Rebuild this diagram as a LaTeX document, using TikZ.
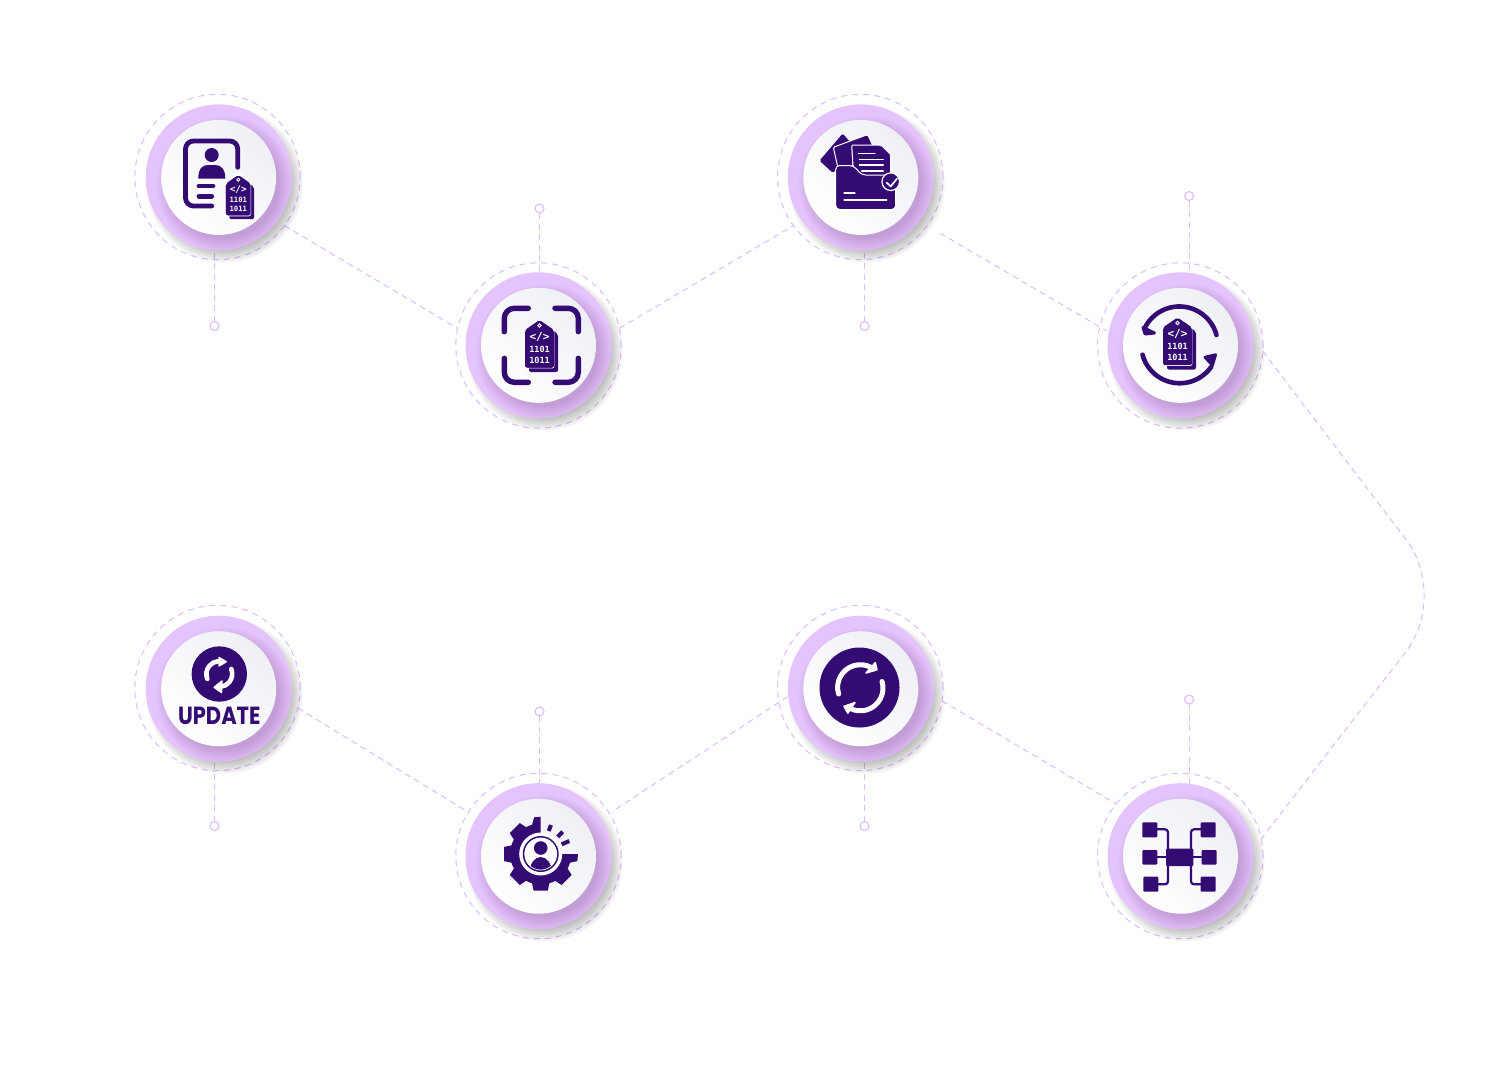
\documentclass[tikz,border=0pt]{standalone}
\usepackage{fontspec}
\newfontfamily\tagfont{DejaVu Sans Mono}
\newfontfamily\updfont{Poppins}
\definecolor{lilac}{HTML}{E5C3FD}
\definecolor{dashc}{HTML}{DFBBFC}
\definecolor{ink}{HTML}{340A73}
\definecolor{softg}{HTML}{EEF0F5}
\tikzset{
  ringnode/.style={circle,draw=dashc,line width=1pt,dash pattern=on 6pt off 5pt,minimum size=165.4pt,inner sep=0pt,outer sep=0pt},
  link/.style={draw=dashc,line width=1pt,dash pattern=on 6pt off 4.5pt},
  dot/.style={circle,draw=dashc,line width=1.1pt,fill=white,minimum size=9pt,inner sep=0pt,outer sep=0pt},
  inkline/.style={draw=ink,line width=#1,line cap=round,line join=round},
  whiteline/.style={draw=white,line width=#1,line cap=round,line join=round},
  tagtext/.style={text=white,inner sep=0pt,font=\tagfont\bfseries\fontsize{8.5}{8.5}\selectfont,transform shape},
  tagcode/.style={text=white,inner sep=0pt,font=\tagfont\bfseries\fontsize{11}{11}\selectfont,transform shape},
}
% shadows and the two discs, centred on the given point
\newcommand{\discs}[2]{%
  \foreach \rr in {66,68,...,78} {\fill[black,opacity=.04] (#1+6,#2+7) circle[radius=\rr pt];}
  \fill[lilac] (#1,#2) circle[radius=73pt];
  \begin{scope}
    \clip (#1,#2) circle[radius=73pt];
    \foreach \rr in {54,56,...,68} {\fill[black!60!violet,opacity=.022] (#1+6,#2+7) circle[radius=\rr pt];}
  \end{scope}
  \shade[left color=softg,right color=white,shading angle=-45] (#1,#2) circle[radius=57.5pt];
}
% binary price tag: name prefix, centre x, top y, scale
\newcommand{\tagico}[4]{%
  \begin{scope}[shift={(#2,#3)},scale=#4]
    \fill[ink,rounded corners=2pt] (4,4)--(18.5,14)--(18.5,52)--(-10.5,52)--(-10.5,14)--cycle;
    \filldraw[ink,rounded corners=2pt,draw=white,line width=.9pt] (0,0)--(14.5,10)--(14.5,48)--(-14.5,48)--(-14.5,10)--cycle;
    \fill[ink,rounded corners=2pt] (0,0)--(14.5,10)--(14.5,47.5)--(-14.5,47.5)--(-14.5,10)--cycle;
    \filldraw[fill=ink,draw=white,line width=.9pt] (0,5.5) circle[radius=1.8pt];
    \node[tagcode] (#1a) at (0,16.5) {</>};
    \node[tagtext] (#1b) at (0,29) {1101};
    \node[tagtext] (#1c) at (0,40) {1011};
  \end{scope}
}
\begin{document}
\begin{tikzpicture}[x=1pt,y=-1pt]
\useasboundingbox (0,0) rectangle (1503,1080);
\fill[white] (0,0) rectangle (1503,1080);

% dashed rings
\node[ringnode] (c1) at (217.5,177) {};
\node[ringnode] (c2) at (860.3,177) {};
\node[ringnode] (c3) at (538.5,345.5) {};
\node[ringnode] (c4) at (1180.3,345.5) {};
\node[ringnode] (c5) at (217.5,688) {};
\node[ringnode] (c6) at (538.5,856) {};
\node[ringnode] (c7) at (860.3,688) {};
\node[ringnode] (c8) at (1180.3,856) {};

% small end circles
\node[dot] (d1) at (214.5,326) {};
\node[dot] (d2) at (864.5,326) {};
\node[dot] (d3) at (539.5,208.5) {};
\node[dot] (d4) at (1189,196) {};
\node[dot] (d5) at (214.5,826) {};
\node[dot] (d6) at (539.5,711.5) {};
\node[dot] (d7) at (864.5,826) {};
\node[dot] (d8) at (1189,699.5) {};
\foreach \i in {1,...,8} {\draw[link] (d\i) -- (d\i |- c\i);}

% connectors
\draw[link] (c1.-36.5) -- (c3.168);
\draw[link] (c3.12.8) -- (c2.216);
\draw[link,shorten <=15pt,shorten >=-8pt] (c2.-36) -- (c4.167);
\coordinate (bend) at (1449,596);
\draw[link,rounded corners=70pt] (c4.-4.5) -- (bend) -- (c8.12.3);
\draw[link] (c5.-14) -- (c6.148.5);
\draw[link,shorten <=8pt,shorten >=-10pt] (c6.31.5) -- (c7.190.7);
\draw[link] (c7.-9.4) -- (c8.141.7);

% discs
\discs{218.7}{177.4}
\discs{860.8}{177.4}
\discs{538.5}{345.3}
\discs{1180.5}{345.3}
\discs{218.7}{688.7}
\discs{538.5}{856.2}
\discs{860.8}{688.7}
\discs{1180.5}{856.2}

% icon 1: profile card with tag
\draw[inkline=4.8pt,rounded corners=8pt] (237.7,167.3)--(237.7,141)--(185.5,141)--(185.5,206)--(211.7,206);
\fill[ink] (211.7,155) circle[radius=7pt];
\fill[ink] (198.3,178.6) .. controls (198.3,168) and (203,165) .. (208,165) -- (215,165) .. controls (221,165) and (225.3,169) .. (225.3,178.6) -- cycle;
\draw[inkline=4.8pt] (199,186)--(213,186);
\draw[inkline=4.8pt] (199,196.3)--(211.7,196.3);
\fill[white] (226,184) rectangle (254,221);
\fill[white] (238.3,172) -- (252,184) -- (226,184) -- cycle;
\tagico{ta}{238.3}{175}{.85}

% icon 2: folder with papers
\fill[ink,rounded corners=1.5pt] (819.5,160.7)--(842.7,133.5)--(851,143)--(835,150)--(838,166)--(833,173)--cycle;
\filldraw[fill=ink,draw=white,line width=1pt,rounded corners=1.5pt] (833.3,147.3)--(867.7,134.5)--(873,146)--(852,146)--(853,166)--(838,168)--cycle;
\filldraw[fill=ink,draw=white,line width=1pt,rounded corners=1pt] (851.7,145)--(880,145)--(890.5,155)--(890.5,176)--(861,176)--(853,166)--cycle;
\fill[ink] (881,146)--(890,155)--(881,155)--cycle;
\draw[whiteline=1.2pt] (858.3,153.3)--(875,153.3);
\draw[whiteline=1.2pt] (859.3,159.3)--(883.3,159.3);
\draw[whiteline=1.2pt] (859.3,165)--(883.3,165);
\draw[whiteline=1.2pt] (861.7,171)--(883.3,171);
\filldraw[fill=ink,draw=white,line width=1pt,rounded corners=4pt] (835.7,209.5)--(835.7,165.5)--(853.3,165.5)--(861.7,175)--(895.7,175)--(895.7,209.5)--cycle;
\draw[whiteline=1.2pt] (844,193)--(855,193);
\draw[whiteline=1.2pt] (844,200)--(886.7,200);
\filldraw[fill=ink,draw=white,line width=1.2pt] (890.7,181.7) circle[radius=8.8pt];
\draw[whiteline=1.7pt] (886.7,182.7)--(890.7,186.4)--(897,178.6);

% icon 3: scan frame with tag
\draw[inkline=5.4pt,rounded corners=10pt] (528.3,308.3)--(504.3,308.3)--(504.3,331.7);
\draw[inkline=5.4pt,rounded corners=10pt] (555,308.3)--(578.3,308.3)--(578.3,331.7);
\draw[inkline=5.4pt,rounded corners=10pt] (504.3,358.3)--(504.3,382.3)--(528.3,382.3);
\draw[inkline=5.4pt,rounded corners=10pt] (578.3,358.3)--(578.3,382.3)--(555,382.3);
\tagico{tb}{539.5}{320}{1}

% icon 4: circular arrows with tag
\draw[inkline=4.6pt] (1216.5,335) arc[start angle=15,end angle=152,radius=38.5pt];
\draw[inkline=4.6pt] (1142.5,354.7) arc[start angle=195,end angle=325,radius=38.5pt];
\filldraw[ink,line join=round,line width=3pt] (1143,327.5)--(1145,334)--(1154.5,333)--cycle;
\filldraw[ink,line join=round,line width=3pt] (1205,357.3)--(1215.5,354.8)--(1212.5,365)--cycle;
\tagico{tc}{1177.5}{317.5}{1}

% icon 5: update
\fill[ink] (219.3,674) circle[radius=27.7pt];
\draw[whiteline=4.6pt] (207.3,679) arc[start angle=202,end angle=95,radius=13pt];
\filldraw[white,line join=round,line width=1.5pt] (219,657.5)--(226.2,661.7)--(219,666)--cycle;
\draw[whiteline=4.6pt] (231.3,669) arc[start angle=22,end angle=-83,radius=13pt];
\filldraw[white,line join=round,line width=1.5pt] (222,681)--(214.2,687.3)--(221.5,692.5)--cycle;
\node[text=ink,inner sep=0pt] (upd) at (219.3,716.3) {\scalebox{1}[1.18]{\updfont\bfseries\fontsize{21}{21}\selectfont UPDATE}};

% icon 6: gear with person
\begin{scope}[shift={(540.7,854)}]
  \fill[ink] (0,0) -- (90:30.5pt) arc[start angle=90,end angle=360,radius=30.5pt] -- cycle;
  \fill[ink] (90:30pt) -- (90:37.3pt) -- (100:37.3pt) -- (107:30pt) -- cycle;
  \foreach \a in {135,180,225,270,315} {\fill[ink] (\a-17:30pt) -- (\a-11:37.3pt) -- (\a+11:37.3pt) -- (\a+17:30pt) -- cycle;}
  \fill[ink] (0:30pt) -- (0:37.3pt) -- (-11:37.3pt) -- (-17:30pt) -- cycle;
  \fill[white] (0,0) circle[radius=21.5pt];
  \fill[ink] (0,0) circle[radius=18pt];
  \fill[white] (0,0) circle[radius=16.4pt];
  \begin{scope}
    \clip (0,0) circle[radius=15.6pt];
    \fill[ink] (0,-6) circle[radius=6.8pt];
    \fill[ink] (0,18) ellipse[x radius=11pt,y radius=15pt];
  \end{scope}
\end{scope}
\draw[draw=ink,line width=4pt] (551,825)--(548.7,831);
\draw[draw=ink,line width=4pt] (562.7,831.7)--(557.7,836.7);
\draw[draw=ink,line width=4pt] (569.3,841)--(561.7,844.3);

% icon 7: sync circle
\fill[ink] (859.5,687.5) circle[radius=40pt];
\draw[whiteline=5pt] (838.6,694) arc[start angle=197,end angle=62,radius=22.7pt];
\filldraw[white,line join=round,line width=1.5pt] (875.3,662.5)--(877,669.8)--(866,673)--cycle;
\draw[whiteline=5pt] (882,681.5) arc[start angle=17,end angle=-118,radius=22.7pt];
\filldraw[white,line join=round,line width=1.5pt] (855,702.5)--(844,706.3)--(847.8,713.2)--cycle;

% icon 8: network
\draw[inkline=2.2pt,rounded corners=3pt] (1157,829.3)--(1168,829.3)--(1168,850);
\draw[inkline=2.2pt,rounded corners=3pt] (1158,884.3)--(1168,884.3)--(1168,865);
\draw[inkline=2.2pt,rounded corners=3pt] (1201,829.3)--(1191,829.3)--(1191,850);
\draw[inkline=2.2pt,rounded corners=3pt] (1201,884.3)--(1191,884.3)--(1191,865);
\draw[inkline=2.2pt] (1157,857.3)--(1202,857.3);
\fill[ink,rounded corners=1pt] (1166,848.7) rectangle (1193.3,866);
\fill[ink,rounded corners=1pt] (1142.3,822.3) rectangle (1157.3,837.3);
\fill[ink,rounded corners=1pt] (1142.3,850) rectangle (1157.3,864.5);
\fill[ink,rounded corners=1pt] (1143.3,876.7) rectangle (1158.3,891.7);
\fill[ink,rounded corners=1pt] (1200.7,822.3) rectangle (1215.7,837.3);
\fill[ink,rounded corners=1pt] (1201.7,850) rectangle (1216.7,864.5);
\fill[ink,rounded corners=1pt] (1200.7,876.7) rectangle (1215.7,891.7);
\end{tikzpicture}
\end{document}
